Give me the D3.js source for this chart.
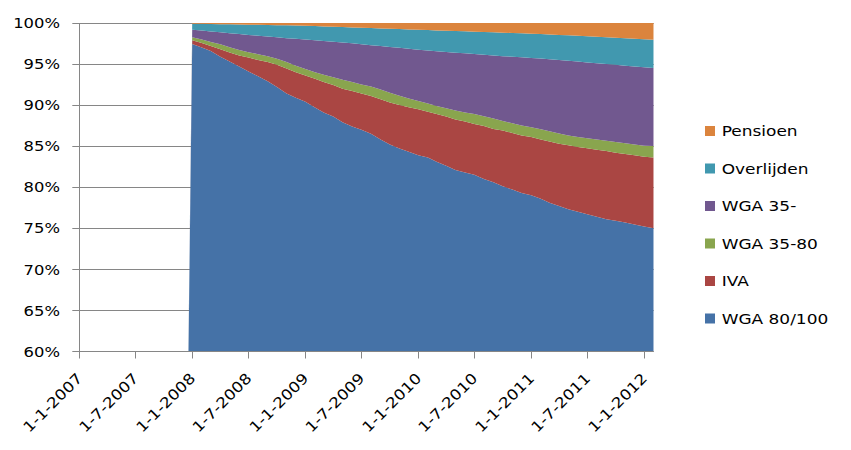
<!DOCTYPE html>
<html><head><meta charset="utf-8">
<script src="https://cdn.jsdelivr.net/npm/d3@7"></script>
<style>body{margin:0;background:#fff}</style></head>
<body>
<svg id="chart" width="851" height="450"></svg>
<script>
// ---- data ----
const months = ["2007-12-01",
 "2008-01-01","2008-02-01","2008-03-01","2008-04-01","2008-05-01","2008-06-01","2008-07-01","2008-08-01","2008-09-01","2008-10-01","2008-11-01","2008-12-01",
 "2009-01-01","2009-02-01","2009-03-01","2009-04-01","2009-05-01","2009-06-01","2009-07-01","2009-08-01","2009-09-01","2009-10-01","2009-11-01","2009-12-01",
 "2010-01-01","2010-02-01","2010-03-01","2010-04-01","2010-05-01","2010-06-01","2010-07-01","2010-08-01","2010-09-01","2010-10-01","2010-11-01","2010-12-01",
 "2011-01-01","2011-02-01","2011-03-01","2011-04-01","2011-05-01","2011-06-01","2011-07-01","2011-08-01","2011-09-01","2011-10-01","2011-11-01","2011-12-01",
 "2012-01-01","2012-02-01"];
const wga80100 = [0,97.45,97.0,96.6,95.9,95.3,94.7,94.1,93.5,92.9,92.2,91.4,90.9,90.4,89.7,89.1,88.6,87.9,87.4,87.0,86.5,85.8,85.2,84.7,84.3,83.9,83.6,83.1,82.6,82.1,81.8,81.5,81.0,80.6,80.1,79.7,79.3,79.0,78.6,78.1,77.7,77.3,77.0,76.7,76.4,76.1,75.9,75.7,75.45,75.2,75.0];
const iva = [0,0.45,0.55,0.6,0.9,1.1,1.35,1.7,2.0,2.35,2.7,3.05,3.1,3.2,3.5,3.7,3.85,4.1,4.3,4.4,4.6,4.9,5.1,5.3,5.45,5.6,5.6,5.8,6.0,6.15,6.2,6.2,6.45,6.5,6.8,6.9,7.0,7.1,7.2,7.45,7.6,7.8,7.9,8.05,8.15,8.3,8.3,8.35,8.45,8.5,8.6];
const wga3580 = [0,0.36,0.45,0.5,0.6,0.65,0.65,0.65,0.7,0.7,0.75,0.8,0.8,0.8,0.8,0.9,0.95,1.1,1.1,1.1,1.15,1.2,1.2,1.15,1.05,1.0,1.0,1.0,1.0,1.1,1.1,1.2,1.2,1.25,1.15,1.2,1.2,1.2,1.25,1.25,1.25,1.2,1.2,1.2,1.25,1.25,1.3,1.3,1.3,1.35,1.4];
const wga35min = [0,0.93,1.08,1.27,1.46,1.7,1.95,2.1,2.25,2.4,2.6,2.9,3.27,3.58,3.89,4.1,4.32,4.53,4.72,4.91,5.05,5.29,5.58,5.82,6.06,6.25,6.46,6.67,6.88,7.04,7.2,7.31,7.47,7.68,7.91,8.09,8.32,8.45,8.62,8.79,8.95,9.1,9.2,9.25,9.3,9.35,9.4,9.45,9.5,9.55,9.53];
const overlijden = [0,0.73,0.82,0.91,1.0,1.09,1.17,1.25,1.33,1.41,1.49,1.57,1.63,1.68,1.73,1.78,1.82,1.87,1.94,2.01,2.08,2.15,2.22,2.29,2.36,2.43,2.48,2.53,2.58,2.63,2.68,2.73,2.78,2.83,2.86,2.89,2.92,2.95,2.98,3.01,3.05,3.1,3.14,3.18,3.22,3.26,3.3,3.34,3.38,3.42,3.44];
const pensioen = [0,0.08,0.1,0.12,0.14,0.16,0.18,0.2,0.22,0.24,0.26,0.28,0.3,0.34,0.38,0.42,0.46,0.5,0.54,0.58,0.62,0.66,0.7,0.74,0.78,0.82,0.86,0.9,0.94,0.98,1.02,1.06,1.1,1.14,1.18,1.22,1.26,1.3,1.35,1.4,1.45,1.5,1.56,1.62,1.68,1.74,1.8,1.86,1.92,1.98,2.03];
const seriesNames = ["WGA 80/100","IVA","WGA 35-80","WGA 35-","Overlijden","Pensioen"];
const seriesColors = ["#4572A7","#AA4643","#89A54E","#71588F","#4198AF","#DB843D"];
const yTickValues = [0.60,0.65,0.70,0.75,0.80,0.85,0.90,0.95,1.00];
const xTickDates = ["2007-01-01","2007-07-01","2008-01-01","2008-07-01","2009-01-01","2009-07-01","2010-01-01","2010-07-01","2011-01-01","2011-07-01","2012-01-01"];
const xDomain = ["2007-01-01","2012-02-01"];

// ---- build ----
const parse = d3.utcParse("%Y-%m-%d");
const seriesValues = [wga80100, iva, wga3580, wga35min, overlijden, pensioen];
const table = months.map((m, i) => {
  const row = {date: parse(m)};
  seriesNames.forEach((n, k) => row[n] = seriesValues[k][i]);
  return row;
});
const stacked = d3.stack().keys(seriesNames).offset(d3.stackOffsetExpand)(table);

const svg = d3.select("#chart");
const L = 79.3, R = 653.7, T = 23, B = 351.3;
const x = d3.scaleUtc().domain(xDomain.map(parse)).range([L, R]);
const y = d3.scaleLinear().domain([0.6, 1]).range([B, T]);
const gray = "#868686";
const FONT = "'DejaVu Sans', sans-serif";
const FS = 14.5;
const SX = 1.13;

// gridlines
svg.append("g").selectAll("line").data(yTickValues).join("line")
  .attr("x1", L - 7).attr("x2", R).attr("y1", d => Math.round(y(d)) + 0.5).attr("y2", d => Math.round(y(d)) + 0.5)
  .attr("stroke", gray).attr("stroke-width", 1);

// areas
svg.append("clipPath").attr("id", "clip").append("rect")
  .attr("x", L).attr("y", T).attr("width", R - L).attr("height", B - T);
const area = d3.area().x(d => x(d.data.date)).y0(d => y(d[0])).y1(d => y(d[1]));
svg.append("g").attr("clip-path", "url(#clip)").selectAll("path").data(stacked).join("path")
  .attr("d", area).attr("fill", (d, i) => seriesColors[i]);

// y axis line
svg.append("line").attr("x1", Math.round(L) + 0.5).attr("x2", Math.round(L) + 0.5)
  .attr("y1", T).attr("y2", B).attr("stroke", gray);

// x axis
const xAxis = d3.axisBottom(x).tickValues(xTickDates.map(parse)).tickSize(7).tickFormat("");
const gx = svg.append("g").attr("transform", `translate(0,${Math.round(B) + 0.5})`).call(xAxis);
gx.select(".domain").attr("stroke", gray).attr("d", `M${L},0H${R}`);
gx.selectAll(".tick line").attr("stroke", gray);
gx.selectAll(".tick").attr("transform", d => `translate(${Math.round(x(d)) + 0.5},0)`);

const fmt = d3.utcFormat("%-d-%-m-%Y");
svg.append("g").selectAll("text").data(xTickDates.map(parse)).join("text")
  .attr("transform", d => `translate(${x(d) + 4},${B + 28}) rotate(-45) scale(1.16,1)`)
  .attr("text-anchor", "end").attr("font-family", FONT).attr("font-size", FS).attr("fill", "#000")
  .text(d => fmt(d));

// y labels
svg.append("g").selectAll("text").data(yTickValues).join("text")
  .attr("transform", d => `translate(60,${y(d) + 5.3}) scale(${SX},1)`)
  .attr("text-anchor", "end").attr("font-family", FONT).attr("font-size", FS).attr("fill", "#000")
  .text(d => d3.format(".0%")(d));

// legend
const legendOrder = seriesNames.map((n, i) => i).reverse();
const lg = svg.append("g").selectAll("g").data(legendOrder).join("g")
  .attr("transform", (d, j) => `translate(705,${131 + j * 37.5})`);
lg.append("rect").attr("x", 0).attr("y", -5).attr("width", 10).attr("height", 10).attr("fill", d => seriesColors[d]);
lg.append("text").attr("transform", `translate(16.7,5.3) scale(${SX + 0.04},1)`)
  .attr("font-family", FONT).attr("font-size", FS).attr("fill", "#000")
  .text(d => seriesNames[d]);
</script>
</body></html>
